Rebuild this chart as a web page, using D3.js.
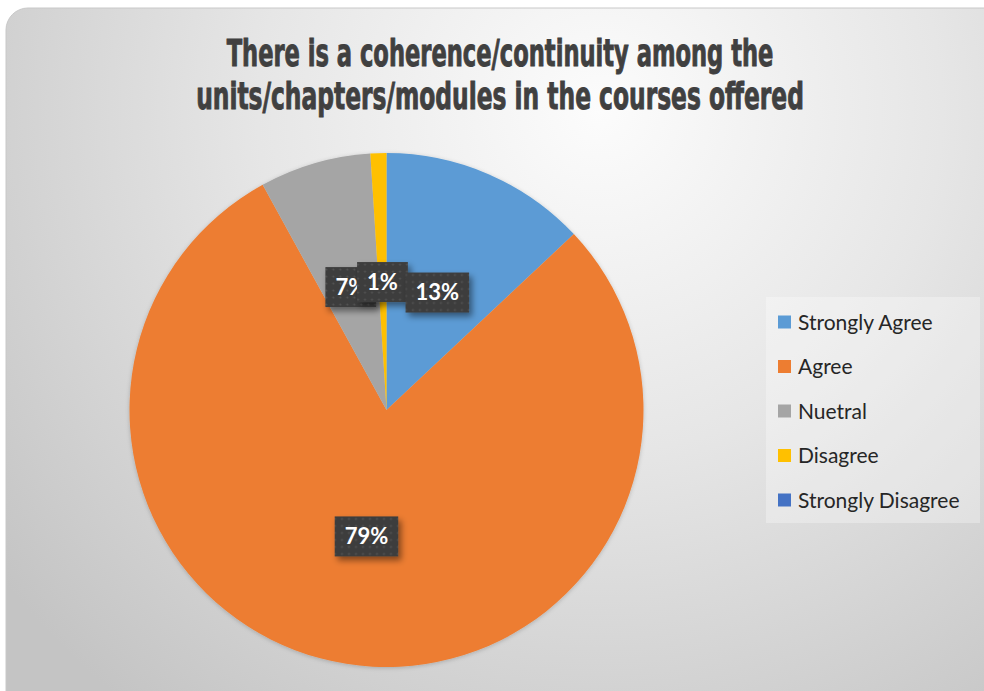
<!DOCTYPE html>
<html>
<head>
<meta charset="utf-8">
<script src="https://cdn.jsdelivr.net/npm/d3@7"></script>
<style>
  body { margin: 0; background: #fff; }
  svg { display: block; }
</style>
</head>
<body>
<svg id="pie" width="984" height="691"></svg>
<script>
(function() {
    var width = 984, height = 691

    // data
    var categories = ["Strongly Agree", "Agree", "Nuetral", "Disagree", "Strongly Disagree"]
    var values = [13, 79, 7, 1, 0]
    var colors = ["#5B9BD5", "#ED7D31", "#A5A5A5", "#FFC000", "#4472C4"]
    var titleLines = ["There is a coherence/continuity among the", "units/chapters/modules in the courses offered"]

    var data = categories.map((name, i) => ({ name: name, value: values[i] }))

    var svg = d3.select("#pie")
    var defs = svg.append("defs")

    // background gradient of the chart area
    var bg = defs.append("radialGradient")
        .attr("id", "bg")
        .attr("gradientUnits", "userSpaceOnUse")
        .attr("cx", 600).attr("cy", 110).attr("r", 760)
    bg.append("stop").attr("offset", 0).attr("stop-color", "#fcfcfc")
    bg.append("stop").attr("offset", 0.45).attr("stop-color", "#e6e6e6")
    bg.append("stop").attr("offset", 1).attr("stop-color", "#c4c4c4")

    // dotted fill for the label boxes
    var pat = defs.append("pattern")
        .attr("id", "dots")
        .attr("patternUnits", "userSpaceOnUse")
        .attr("width", 7).attr("height", 7)
    pat.append("rect").attr("width", 7).attr("height", 7).attr("fill", "#3d3d3d")
    pat.append("circle").attr("cx", 3.5).attr("cy", 3.5).attr("r", 1).attr("fill", "#555")

    var shadow = defs.append("filter").attr("id", "shadow")
        .attr("x", "-30%").attr("y", "-30%").attr("width", "170%").attr("height", "170%")
    shadow.append("feDropShadow")
        .attr("dx", 3).attr("dy", 4).attr("stdDeviation", 3)
        .attr("flood-color", "#000").attr("flood-opacity", 0.45)

    var pieShadow = defs.append("filter").attr("id", "pieShadow")
        .attr("x", "-10%").attr("y", "-10%").attr("width", "120%").attr("height", "120%")
    pieShadow.append("feDropShadow")
        .attr("dx", 0).attr("dy", 1).attr("stdDeviation", 2)
        .attr("flood-color", "#000").attr("flood-opacity", 0.2)

    // chart area
    svg.append("rect")
        .attr("x", 6).attr("y", 8)
        .attr("width", width + 20).attr("height", height + 20)
        .attr("rx", 22)
        .attr("fill", "url(#bg)")
        .attr("stroke", "#c8c8c8")

    // title: a condensed face, squeezed to the width seen in the picture
    var titleWidths = [547, 608]
    var titles = svg.append("g").selectAll("g")
        .data(titleLines)
        .join("g")
    titles.append("text")
        .attr("text-anchor", "middle")
        .style("font-family", "'Liberation Sans Narrow', 'DejaVu Sans Condensed', 'DejaVu Sans', sans-serif")
        .style("font-weight", "bold")
        .style("font-size", "37px")
        .style("fill", "#404040")
        .style("stroke", "#404040")
        .style("stroke-width", 0.9)
        .text(d => d)
    titles.each(function(d, i) {
        var g = d3.select(this)
        var w = g.select("text").node().getComputedTextLength()
        var sx = Math.min(1, titleWidths[i] / w)
        g.attr("transform", `translate(500,${66 + i * 43}) scale(${sx},1)`)
    })

    // pie
    var radius = 257
    var cx = 386.5, cy = 410

    var pie = d3.pie().sort(null).value(d => d.value)
    var arcs = pie(data)
    var arc = d3.arc().innerRadius(0).outerRadius(radius)
    var labelArc = d3.arc().innerRadius(128).outerRadius(128)

    var chart = svg.append("g").attr("transform", `translate(${cx},${cy})`)

    chart.append("g")
        .attr("filter", "url(#pieShadow)")
        .selectAll("path")
        .data(arcs.filter(d => d.value > 0))
        .join("path")
            .attr("d", arc)
            .attr("fill", d => colors[d.index])

    // data labels, drawn so that the 13% box sits on top
    var order = [1, 2, 3, 0]
    var labels = chart.append("g")
        .selectAll("g")
        .data(order.map(i => arcs[i]))
        .join("g")
            .attr("transform", d => `translate(${labelArc.centroid(d)})`)

    labels.append("rect")
        .attr("class", "box")
        .attr("fill", "url(#dots)")
        .attr("filter", "url(#shadow)")

    labels.append("text")
        .attr("text-anchor", "middle")
        .attr("dy", "0.36em")
        .style("font-family", "Lato, 'Open Sans', sans-serif")
        .style("font-weight", "bold")
        .style("font-size", "22px")
        .style("fill", "#fff")
        .text(d => d.value + "%")

    labels.each(function() {
        var g = d3.select(this)
        var w = g.select("text").node().getComputedTextLength() + 20
        var h = 40
        g.select("rect")
            .attr("x", -w / 2).attr("y", -h / 2)
            .attr("width", w).attr("height", h)
    })

    // legend
    var legend = svg.append("g").attr("transform", "translate(766,297)")
    legend.append("rect")
        .attr("width", 214).attr("height", 226)
        .attr("fill", "#fff").attr("fill-opacity", 0.3)

    var items = legend.selectAll("g.item")
        .data(data)
        .join("g")
            .attr("class", "item")
            .attr("transform", (d, i) => `translate(0,${25 + i * 44.5})`)

    items.append("rect")
        .attr("x", 12).attr("y", -6.5)
        .attr("width", 13).attr("height", 13)
        .attr("fill", (d, i) => colors[i])

    items.append("text")
        .attr("x", 32)
        .attr("dy", "0.36em")
        .style("font-family", "Lato, 'Open Sans', sans-serif")
        .style("font-size", "21px")
        .style("fill", "#262626")
        .text(d => d.name)
})();
</script>
</body>
</html>
